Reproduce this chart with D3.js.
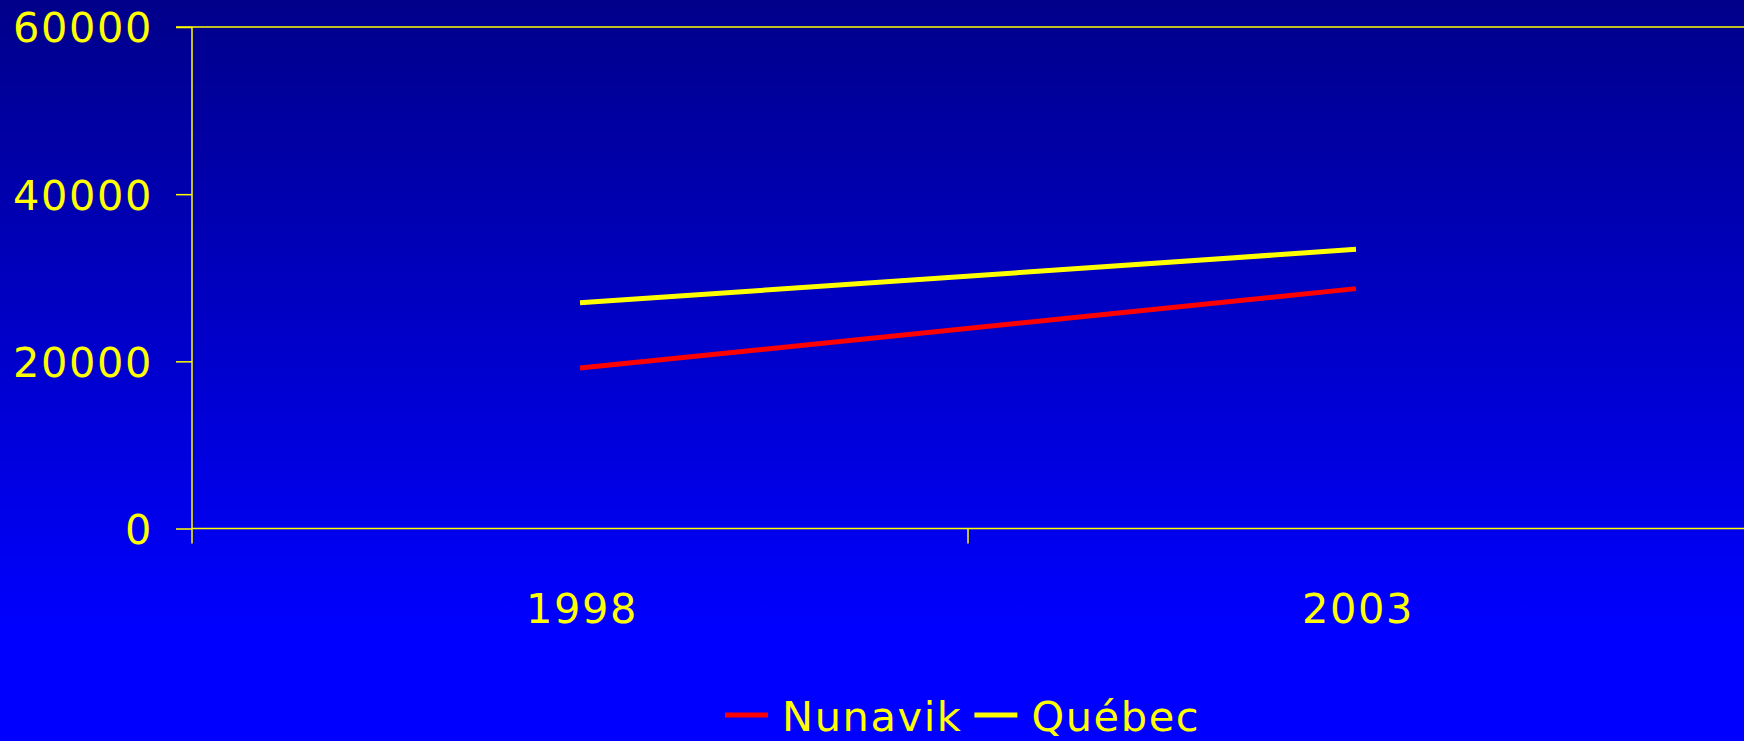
<!DOCTYPE html>
<html><head><meta charset="utf-8">
<script src="https://cdn.jsdelivr.net/npm/d3@7"></script>
<style>html,body{margin:0;padding:0;background:#0000ff;overflow:hidden}</style>
</head><body>
<script>
const categories = ["1998", "2003"];
const seriesNames = ["Nunavik", "Québec"];
const nunavik = [19200, 28700];
const quebec = [27000, 33400];
const yTicks = [0, 20000, 40000, 60000];
const colors = ["#ff0000", "#ffff00"];

(function () {
const W = 1744, H = 741;
const mLeft = 192, mRight = 1744, mTop = 27, mBottom = 528.5;
const svg = d3.select("body").append("svg").attr("width", W).attr("height", H);
const defs = svg.append("defs");
const grad = defs.append("linearGradient").attr("id", "bg").attr("x1", 0).attr("y1", 0).attr("x2", 0).attr("y2", 1);
grad.append("stop").attr("offset", "0%").attr("stop-color", "#00008a");
grad.append("stop").attr("offset", "85%").attr("stop-color", "#0000ff");
grad.append("stop").attr("offset", "100%").attr("stop-color", "#0000ff");
svg.append("rect").attr("width", W).attr("height", H).attr("fill", "url(#bg)");

const x = d3.scaleBand().domain(categories).range([mLeft, mRight]).padding(0);
const y = d3.scaleLinear().domain([0, 60000]).range([mBottom, mTop]);
const font = "'DejaVu Sans', Verdana, sans-serif";
const yellow = "#ffff00";
const ls = 1.6;

svg.append("line").attr("x1", mLeft - 16).attr("x2", mRight).attr("y1", y(60000)).attr("y2", y(60000))
  .attr("stroke", yellow).attr("stroke-width", 1.5);

const yAxis = svg.append("g").attr("transform", `translate(${mLeft},0)`)
  .call(d3.axisLeft(y).tickValues(yTicks).tickSize(16).tickPadding(23).tickSizeOuter(0).tickFormat(d3.format("d")));
yAxis.select(".domain").remove();
yAxis.selectAll(".tick line").attr("stroke", yellow).attr("stroke-width", 1.5);
yAxis.selectAll(".tick text").attr("fill", yellow).attr("font-family", font).attr("font-size", 41.5)
  .attr("letter-spacing", ls).attr("dy", "0.36em");
svg.append("line").attr("x1", mLeft).attr("x2", mLeft).attr("y1", y(60000)).attr("y2", mBottom + 15)
  .attr("stroke", yellow).attr("stroke-width", 1.5);

svg.append("line").attr("x1", mLeft).attr("x2", mRight).attr("y1", mBottom).attr("y2", mBottom)
  .attr("stroke", yellow).attr("stroke-width", 1.5);
const bounds = categories.slice(1).map(c => x(c));
svg.selectAll(".bt").data(bounds).enter().append("line")
  .attr("x1", d => d).attr("x2", d => d).attr("y1", mBottom).attr("y2", mBottom + 15)
  .attr("stroke", yellow).attr("stroke-width", 1.5);
svg.selectAll(".xl").data(categories).enter().append("text")
  .attr("x", d => x(d) + x.bandwidth() / 2 + 2).attr("y", 608).attr("dy", "0.36em")
  .attr("text-anchor", "middle").attr("fill", yellow).attr("font-family", font).attr("font-size", 41.5)
  .attr("letter-spacing", ls).text(d => d);

const series = [nunavik, quebec];
const line = d3.line().x((d, i) => x(categories[i]) + x.bandwidth() / 2).y(d => y(d));
series.forEach((s, k) => {
  svg.append("path").attr("d", line(s)).attr("fill", "none").attr("stroke", colors[k]).attr("stroke-width", 5);
});

const legend = svg.append("g");
let lx = 725;
const ly = 715;
seriesNames.forEach((n, k) => {
  legend.append("line").attr("x1", lx).attr("x2", lx + 43).attr("y1", ly).attr("y2", ly)
    .attr("stroke", colors[k]).attr("stroke-width", 5);
  const t = legend.append("text").attr("x", lx + 57).attr("y", 731).attr("fill", yellow)
    .attr("font-family", font).attr("font-size", 41.5).attr("letter-spacing", ls).text(n);
  lx = lx + 57 + t.node().getComputedTextLength() + 12;
});
})();
</script>
</body></html>
